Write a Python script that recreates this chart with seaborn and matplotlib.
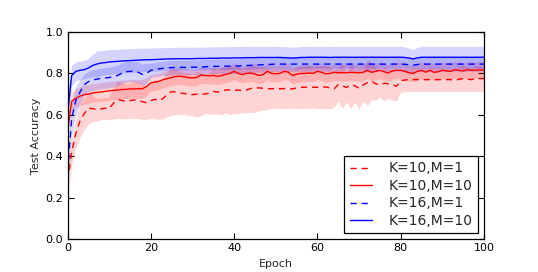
import numpy as np
import pandas as pd
import matplotlib
matplotlib.use("Agg")
import matplotlib.pyplot as plt
import seaborn as sns

epochs = list(range(101))

labels = ["K=10,M=1", "K=10,M=10", "K=16,M=1", "K=16,M=10"]

# K=10, M=1 (red dashed)
red_m1 = [0.28, 0.42, 0.51, 0.57, 0.605, 0.632, 0.630, 0.625, 0.628, 0.632,
          0.630, 0.655, 0.672, 0.670, 0.665, 0.668, 0.672, 0.670, 0.663, 0.658,
          0.668, 0.675, 0.668, 0.680, 0.700, 0.712, 0.710, 0.705, 0.703, 0.700,
          0.697, 0.700, 0.700, 0.700, 0.705, 0.713, 0.710, 0.715, 0.720, 0.720,
          0.718, 0.720, 0.716, 0.720, 0.727, 0.730, 0.730, 0.728, 0.726, 0.726,
          0.727, 0.726, 0.727, 0.726, 0.725, 0.730, 0.733, 0.733, 0.734, 0.733,
          0.733, 0.733, 0.735, 0.730, 0.725, 0.746, 0.740, 0.732, 0.745, 0.740,
          0.728, 0.745, 0.755, 0.762, 0.750, 0.745, 0.752, 0.750, 0.745, 0.738,
          0.765, 0.768, 0.770, 0.770, 0.770, 0.770, 0.770, 0.770, 0.770, 0.770,
          0.770, 0.770, 0.770, 0.765, 0.772, 0.775, 0.772, 0.770, 0.775, 0.775,
          0.775]
red_m1_sd = [0.08, 0.06, 0.07, 0.08, 0.075, 0.077, 0.065, 0.055, 0.053, 0.052,
             0.055, 0.075, 0.090, 0.088, 0.085, 0.085, 0.090, 0.088, 0.085, 0.080,
             0.085, 0.095, 0.090, 0.100, 0.110, 0.115, 0.110, 0.105, 0.100, 0.105,
             0.100, 0.110, 0.105, 0.095, 0.100, 0.110, 0.105, 0.115, 0.110, 0.120,
             0.110, 0.115, 0.105, 0.110, 0.115, 0.120, 0.110, 0.105, 0.100, 0.095,
             0.097, 0.096, 0.097, 0.095, 0.095, 0.100, 0.103, 0.103, 0.104, 0.100,
             0.103, 0.103, 0.105, 0.100, 0.090, 0.080, 0.110, 0.070, 0.115, 0.080,
             0.098, 0.080, 0.110, 0.090, 0.080, 0.060, 0.085, 0.070, 0.075, 0.070,
             0.055, 0.057, 0.057, 0.057, 0.057, 0.057, 0.057, 0.057, 0.057, 0.057,
             0.057, 0.057, 0.057, 0.052, 0.060, 0.062, 0.060, 0.057, 0.062, 0.062,
             0.062]

# K=10, M=10 (red solid)
red_m10 = [0.52, 0.665, 0.680, 0.690, 0.697, 0.700, 0.705, 0.708, 0.710, 0.713,
           0.716, 0.718, 0.720, 0.722, 0.723, 0.725, 0.725, 0.726, 0.726, 0.737,
           0.754, 0.758, 0.762, 0.770, 0.775, 0.780, 0.785, 0.786, 0.784, 0.780,
           0.778, 0.780, 0.792, 0.790, 0.788, 0.790, 0.786, 0.790, 0.795, 0.800,
           0.810, 0.800, 0.794, 0.800, 0.802, 0.797, 0.790, 0.795, 0.810, 0.800,
           0.798, 0.800, 0.810, 0.806, 0.790, 0.796, 0.800, 0.800, 0.802, 0.800,
           0.810, 0.805, 0.798, 0.800, 0.805, 0.803, 0.804, 0.803, 0.805, 0.804,
           0.803, 0.805, 0.815, 0.805, 0.810, 0.815, 0.808, 0.802, 0.812, 0.815,
           0.815, 0.810, 0.803, 0.800, 0.810, 0.815, 0.806, 0.815, 0.805, 0.808,
           0.815, 0.812, 0.810, 0.818, 0.815, 0.812, 0.818, 0.815, 0.815, 0.818,
           0.815]
red_m10_sd = [0.06, 0.045, 0.045, 0.045, 0.045, 0.045, 0.045, 0.045, 0.045, 0.045,
              0.045, 0.045, 0.045, 0.045, 0.045, 0.045, 0.045, 0.045, 0.045, 0.045,
              0.040, 0.040, 0.040, 0.040, 0.040, 0.040, 0.040, 0.040, 0.040, 0.040,
              0.040, 0.040, 0.040, 0.040, 0.040, 0.040, 0.040, 0.040, 0.040, 0.040,
              0.040, 0.040, 0.040, 0.040, 0.040, 0.040, 0.040, 0.040, 0.040, 0.040,
              0.040, 0.040, 0.040, 0.040, 0.040, 0.040, 0.040, 0.040, 0.040, 0.040,
              0.040, 0.040, 0.040, 0.040, 0.040, 0.040, 0.040, 0.040, 0.040, 0.040,
              0.040, 0.040, 0.040, 0.040, 0.040, 0.040, 0.040, 0.040, 0.040, 0.040,
              0.040, 0.040, 0.040, 0.040, 0.040, 0.040, 0.040, 0.040, 0.040, 0.040,
              0.040, 0.040, 0.040, 0.040, 0.040, 0.040, 0.040, 0.040, 0.040, 0.040,
              0.040]

# K=16, M=1 (blue dashed)
blue_m1 = [0.33, 0.58, 0.670, 0.710, 0.745, 0.760, 0.768, 0.772, 0.776, 0.778,
           0.780, 0.785, 0.790, 0.800, 0.808, 0.810, 0.810, 0.805, 0.795, 0.800,
           0.815, 0.818, 0.822, 0.825, 0.826, 0.828, 0.829, 0.829, 0.829, 0.829,
           0.830, 0.830, 0.830, 0.832, 0.833, 0.834, 0.834, 0.834, 0.835, 0.835,
           0.835, 0.836, 0.837, 0.838, 0.839, 0.840, 0.841, 0.842, 0.843, 0.844,
           0.845, 0.845, 0.845, 0.844, 0.845, 0.845, 0.845, 0.845, 0.845, 0.845,
           0.845, 0.845, 0.845, 0.845, 0.845, 0.845, 0.845, 0.845, 0.845, 0.845,
           0.845, 0.845, 0.845, 0.845, 0.845, 0.845, 0.845, 0.845, 0.845, 0.845,
           0.845, 0.844, 0.842, 0.840, 0.843, 0.845, 0.845, 0.845, 0.845, 0.845,
           0.845, 0.845, 0.845, 0.845, 0.845, 0.845, 0.845, 0.845, 0.845, 0.845,
           0.845]
blue_m1_sd = [0.08, 0.08, 0.07, 0.06, 0.05, 0.05, 0.05, 0.05, 0.05, 0.05,
              0.05, 0.05, 0.05, 0.05, 0.05, 0.05, 0.05, 0.05, 0.05, 0.05,
              0.035, 0.035, 0.035, 0.035, 0.035, 0.035, 0.035, 0.035, 0.035, 0.035,
              0.035, 0.035, 0.035, 0.035, 0.035, 0.035, 0.035, 0.035, 0.035, 0.035,
              0.035, 0.035, 0.035, 0.035, 0.035, 0.035, 0.035, 0.035, 0.035, 0.035,
              0.035, 0.035, 0.035, 0.035, 0.035, 0.035, 0.035, 0.035, 0.035, 0.035,
              0.035, 0.035, 0.035, 0.035, 0.035, 0.035, 0.035, 0.035, 0.035, 0.035,
              0.035, 0.035, 0.035, 0.035, 0.035, 0.035, 0.035, 0.035, 0.035, 0.035,
              0.035, 0.035, 0.035, 0.035, 0.035, 0.035, 0.035, 0.035, 0.035, 0.035,
              0.035, 0.035, 0.035, 0.035, 0.035, 0.035, 0.035, 0.035, 0.035, 0.035,
              0.035]

# K=16, M=10 (blue solid)
blue_m10 = [0.60, 0.790, 0.810, 0.815, 0.818, 0.826, 0.838, 0.845, 0.850, 0.852,
            0.855, 0.857, 0.858, 0.860, 0.861, 0.862, 0.863, 0.864, 0.865, 0.866,
            0.866, 0.867, 0.868, 0.869, 0.870, 0.870, 0.871, 0.871, 0.871, 0.871,
            0.871, 0.872, 0.872, 0.872, 0.873, 0.873, 0.873, 0.874, 0.874, 0.874,
            0.875, 0.875, 0.875, 0.876, 0.876, 0.876, 0.877, 0.877, 0.877, 0.877,
            0.877, 0.877, 0.876, 0.875, 0.874, 0.875, 0.877, 0.877, 0.878, 0.878,
            0.878, 0.878, 0.878, 0.877, 0.878, 0.878, 0.878, 0.878, 0.878, 0.878,
            0.878, 0.878, 0.878, 0.878, 0.878, 0.878, 0.878, 0.878, 0.878, 0.878,
            0.878, 0.877, 0.874, 0.870, 0.875, 0.878, 0.878, 0.878, 0.878, 0.878,
            0.878, 0.878, 0.878, 0.878, 0.878, 0.878, 0.878, 0.878, 0.878, 0.878,
            0.878]
blue_m10_sd = [0.10, 0.050, 0.045, 0.045, 0.045, 0.045, 0.055, 0.062, 0.060, 0.060,
               0.060, 0.059, 0.058, 0.058, 0.058, 0.058, 0.057, 0.057, 0.057, 0.057,
               0.056, 0.056, 0.056, 0.055, 0.055, 0.055, 0.055, 0.055, 0.055, 0.055,
               0.055, 0.055, 0.055, 0.055, 0.055, 0.055, 0.055, 0.055, 0.055, 0.055,
               0.055, 0.055, 0.055, 0.055, 0.055, 0.055, 0.054, 0.054, 0.054, 0.054,
               0.053, 0.053, 0.053, 0.053, 0.053, 0.053, 0.053, 0.053, 0.053, 0.053,
               0.053, 0.053, 0.053, 0.053, 0.053, 0.053, 0.053, 0.053, 0.053, 0.053,
               0.053, 0.053, 0.053, 0.053, 0.053, 0.053, 0.053, 0.053, 0.053, 0.053,
               0.053, 0.050, 0.047, 0.046, 0.050, 0.053, 0.053, 0.053, 0.053, 0.053,
               0.053, 0.053, 0.053, 0.053, 0.053, 0.053, 0.053, 0.053, 0.053, 0.053,
               0.053]

means = [red_m1, red_m10, blue_m1, blue_m10]
sds = [red_m1_sd, red_m10_sd, blue_m1_sd, blue_m10_sd]
colors = ["#ff0000", "#ff0000", "#0000ff", "#0000ff"]
styles = ["--", "-", "--", "-"]

sns.set_style("ticks")
plt.rcParams["font.family"] = ["DejaVu Sans"]

fig = plt.figure(figsize=(5.38, 2.72), dpi=100)
ax = fig.add_axes([67.5 / 538, 33 / 272, 416.5 / 538, 207 / 272])

rows = []
for lab, m in zip(labels, means):
    for e, v in zip(epochs, m):
        rows.append({"Epoch": e, "acc": v, "series": lab})
df = pd.DataFrame(rows)

for lab, m, s, c in zip(labels, means, sds, colors):
    m = np.array(m)
    s = np.array(s)
    ax.fill_between(epochs, m - s, m + s, color=c, alpha=0.17, linewidth=0)

for lab, c, ls in zip(labels, colors, styles):
    sub = df[df["series"] == lab]
    sns.lineplot(data=sub, x="Epoch", y="acc", ax=ax, color=c, linewidth=1.0,
                 label=lab, estimator=None, errorbar=None)
    line = ax.get_lines()[-1]
    if ls == "--":
        line.set_dashes((4.5, 3.5))

ax.set_xlim(0, 100)
ax.set_ylim(0, 1.0)
ax.set_xticks([0, 20, 40, 60, 80, 100])
ax.set_yticks([0.0, 0.2, 0.4, 0.6, 0.8, 1.0])
ax.set_yticklabels(["0.0", "0.2", "0.4", "0.6", "0.8", "1.0"])
ax.set_xlabel("Epoch", fontsize=8, labelpad=4)
ax.set_ylabel("Test Accuracy", fontsize=8, labelpad=3)
ax.tick_params(direction="in", length=4, width=0.8, labelsize=8,
               top=True, right=True, colors="black", pad=3)
for sp in ax.spines.values():
    sp.set_visible(True)
    sp.set_color("black")
    sp.set_linewidth(0.9)

leg = ax.legend(loc="lower right", fontsize=10, frameon=True, fancybox=False,
                edgecolor="black", framealpha=1, handlelength=1.6,
                labelspacing=0.25, borderaxespad=0.4, borderpad=0.4,
                handletextpad=1.2)
leg.get_frame().set_linewidth(0.9)
for h in leg.get_lines():
    h.set_linewidth(1.0)
leg.get_lines()[0].set_dashes((4.5, 3.5))
leg.get_lines()[2].set_dashes((4.5, 3.5))

fig.savefig("out.png", dpi=100)
